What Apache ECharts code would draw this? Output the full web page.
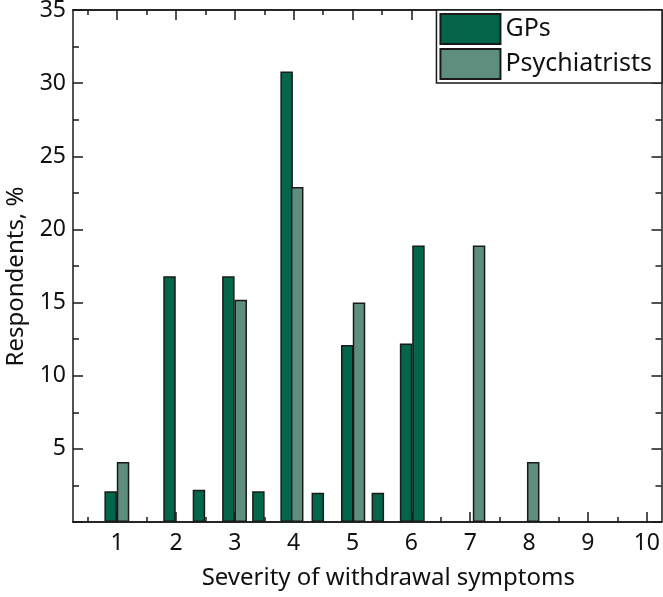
<!DOCTYPE html>
<html><head><meta charset="utf-8">
<script src="https://cdn.jsdelivr.net/npm/echarts@6/dist/echarts.min.js"></script>
<style>html,body{margin:0;padding:0;background:#fff}#c{width:663px;height:597px}</style>
</head><body><div id="c"></div>
<script>
const seriesNames = ['GPs', 'Psychiatrists'];
// severity position (x) and percentage of respondents (y)
const gpSeverity = [0.89, 1.89, 2.39, 2.89, 3.40, 3.88, 4.41, 4.91, 5.43, 5.91, 6.12];
const gpValues = [2.1, 16.8, 2.2, 16.8, 2.1, 30.8, 2.0, 12.1, 2.0, 12.2, 18.9];
const psySeverity = [1.10, 3.10, 4.06, 5.11, 7.15, 8.07];
const psyValues = [4.1, 15.2, 22.9, 15.0, 18.9, 4.1];
const xTickLabels = [1, 2, 3, 4, 5, 6, 7, 8, 9, 10];
const xMinorTicks = [0.5, 1.5, 2.5, 3.5, 4.5, 5.5, 6.5, 7.5, 8.5, 9.5];
const yTickLabels = [5, 10, 15, 20, 25, 30, 35];

const FONT = 'Noto Sans';
const X_MIN = 0.25, X_MAX = 10.25;
const ink = '#1a1a1a';

function xAx(pos, ticks, len, labels) {
  return {
    type: 'value', position: pos, min: X_MIN, max: X_MAX,
    axisLine: { show: true, lineStyle: { color: ink, width: 1.5 } },
    axisTick: { show: true, inside: true, length: len, customValues: ticks, lineStyle: { color: ink, width: 1.5 } },
    axisLabel: labels ? { show: true, customValues: ticks, margin: 10, fontFamily: FONT, fontSize: 23, color: '#111' } : { show: false },
    splitLine: { show: false },
    name: labels ? 'Severity of withdrawal symptoms' : '',
    nameLocation: 'middle', nameGap: 44,
    nameTextStyle: { fontFamily: FONT, fontSize: 24, color: '#111', padding: [0, 0, 0, 42] }
  };
}
function yAx(pos, labels) {
  return {
    type: 'value', position: pos, min: 0, max: 35, interval: 5,
    axisLine: { show: true, lineStyle: { color: ink, width: 1.5 } },
    axisTick: { show: true, inside: true, length: 10, lineStyle: { color: ink, width: 1.5 } },
    minorTick: { show: true, splitNumber: 2, length: 6, lineStyle: { color: ink, width: 1.5 } },
    axisLabel: labels ? {
      show: true, margin: 7, fontFamily: FONT, fontSize: 23, color: '#111',
      formatter: v => (yTickLabels.indexOf(v) >= 0 ? String(v) : '')
    } : { show: false },
    splitLine: { show: false },
    name: labels ? 'Respondents, %' : '',
    nameLocation: 'middle', nameGap: 45, nameRotate: 90,
    nameTextStyle: { fontFamily: FONT, fontSize: 24, color: '#111', padding: [0, 21, 0, 0] }
  };
}

const chart = echarts.init(document.getElementById('c'), null, { renderer: 'canvas' });
chart.setOption({
  animation: false,
  backgroundColor: '#fff',
  grid: { left: 73, right: 1.5, top: 10, bottom: 75, containLabel: false, outerBoundsMode: 'none' },
  xAxis: [
    xAx('bottom', xTickLabels, 10, true),
    xAx('bottom', xMinorTicks, 5, false),
    xAx('top', xTickLabels, 10, false),
    xAx('top', xMinorTicks, 5, false)
  ],
  yAxis: [yAx('left', true), yAx('right', false)],
  legend: {
    orient: 'vertical', right: 1, top: 10,
    data: seriesNames,
    icon: 'rect', itemWidth: 60, itemHeight: 30, itemGap: 3,
    padding: [3, 10, 3, 3],
    backgroundColor: '#fff', borderColor: ink, borderWidth: 1.5,
    textStyle: { fontFamily: FONT, fontSize: 25, color: '#111' },
    z: 10
  },
  series: [
    {
      name: seriesNames[0], type: 'bar', xAxisIndex: 0, yAxisIndex: 0,
      barWidth: 12.5, barGap: '-100%',
      itemStyle: { color: '#03664b', borderColor: ink, borderWidth: 1.5 },
      data: gpSeverity.map((x, i) => [x, gpValues[i]])
    },
    {
      name: seriesNames[1], type: 'bar', xAxisIndex: 0, yAxisIndex: 0,
      barWidth: 12.5, barGap: '-100%',
      itemStyle: { color: '#608e7e', borderColor: ink, borderWidth: 1.5 },
      data: psySeverity.map((x, i) => [x, psyValues[i]])
    }
  ]
});
</script></body></html>
